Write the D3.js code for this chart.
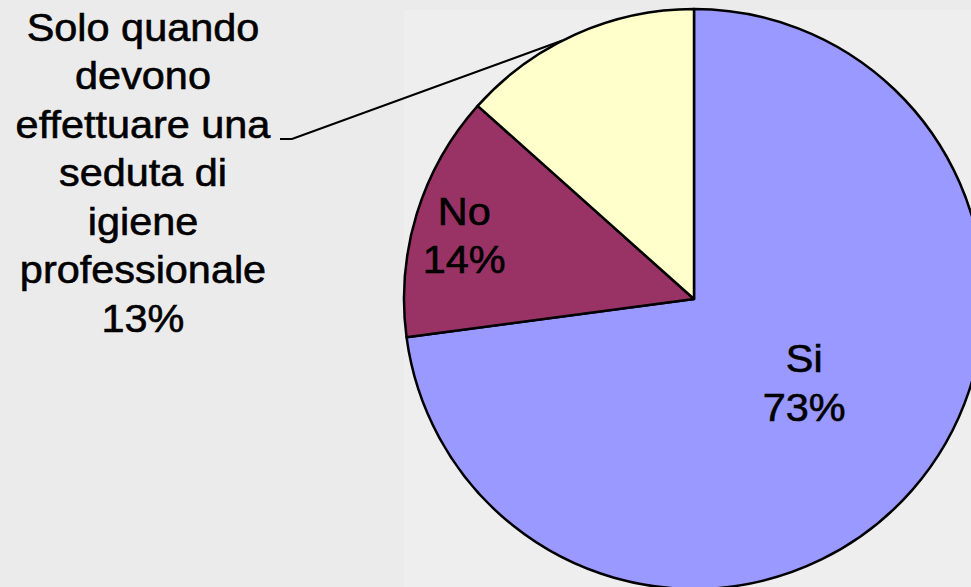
<!DOCTYPE html>
<html>
<head>
<meta charset="utf-8">
<script src="https://cdn.jsdelivr.net/npm/d3@7"></script>
<style>
  html, body { margin: 0; padding: 0; background: #EBEBEB; }
  svg { display: block; }
  text { font-family: "Liberation Sans", Arial, sans-serif; fill: #000; stroke: #000; stroke-width: 0.6px; }
</style>
</head>
<body>
<svg id="chart" width="971" height="587"></svg>
<script>
// ---- data ----
const categories = ["Si", "No", "Solo quando devono effettuare una seduta di igiene professionale"];
const values = [72.9, 13.7, 13.4];
const colors = ["#9999FF", "#993366", "#FFFFCC"];
const labelNames = [
  ["Si"],
  ["No"],
  ["Solo quando", "devono", "effettuare una", "seduta di", "igiene", "professionale"]
];

// ---- layout ----
const W = 971, H = 587;
const cx = 694, cy = 299, R = 290;
const svg = d3.select("#chart");

svg.append("rect").attr("x", 0).attr("y", 0).attr("width", W).attr("height", H).attr("fill", "#EBEBEB");
svg.append("rect").attr("x", 404).attr("y", 10).attr("width", W - 404).attr("height", H - 10).attr("fill", "#EEEEEE");

const pie = d3.pie().sort(null).value(d => d)(values);
const arc = d3.arc().innerRadius(0).outerRadius(R);

const g = svg.append("g").attr("transform", `translate(${cx},${cy})`);
g.selectAll("path.slice").data(pie).join("path")
  .attr("class", "slice")
  .attr("d", arc)
  .attr("fill", (d, i) => colors[i])
  .attr("stroke", "#000")
  .attr("stroke-width", 2.5)
  .attr("stroke-linejoin", "round");

const fontSize = 38, lineH = 48.5, sx = 1.09;

function drawLabel(x, yFirstBaseline, lines) {
  const t = svg.append("g").attr("transform", `translate(${x},${yFirstBaseline}) scale(${sx},1)`);
  lines.forEach((s, k) => {
    t.append("text")
      .attr("x", 0).attr("y", k * lineH)
      .attr("text-anchor", "middle")
      .attr("font-size", fontSize)
      .text(s);
  });
}
const pct = v => Math.round(v / d3.sum(values) * 100) + "%";

// inside labels: based on centroid positions, nudged
const labelArc = d3.arc().innerRadius(0).outerRadius(2 * R * 0.51);
const cSi = labelArc.centroid(pie[0]);
drawLabel(cx + cSi[0] - 1, cy + cSi[1] - 24, labelNames[0].concat([pct(values[0])]));
const noArc = d3.arc().innerRadius(0).outerRadius(2 * R * 0.8);
const cNo = noArc.centroid(pie[1]);
drawLabel(cx + cNo[0] - 8, cy + cNo[1] - 6, labelNames[1].concat([pct(values[1])]));

// outside label with leader line
drawLabel(143, 41, labelNames[2].concat([pct(values[2])]));
const pAng = (pie[2].startAngle + pie[2].endAngle) / 2 - 0.05;
const px = cx + R * Math.sin(pAng), py = cy - R * Math.cos(pAng);
svg.append("polyline")
  .attr("points", `280,139 292,139 ${px},${py}`)
  .attr("fill", "none")
  .attr("stroke", "#000")
  .attr("stroke-width", 2.2);
</script>
</body>
</html>
